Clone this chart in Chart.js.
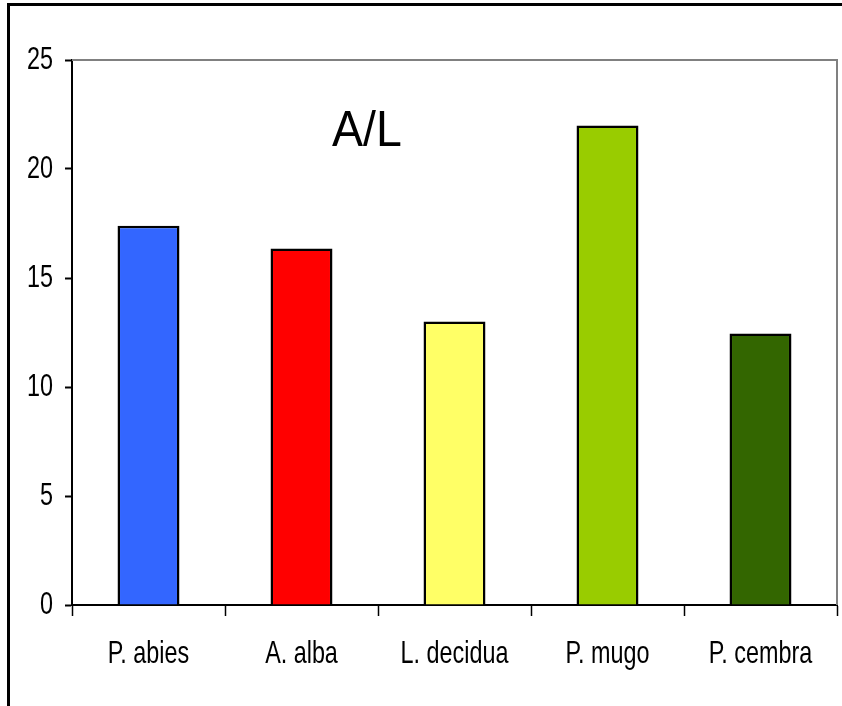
<!DOCTYPE html>
<html>
<head>
<meta charset="utf-8">
<script src="https://cdn.jsdelivr.net/npm/chart.js@4/dist/chart.umd.min.js"></script>
<style>
  html, body { margin: 0; padding: 0; background: #fff; }
  #wrap { width: 842px; height: 706px; position: relative; }
</style>
</head>
<body>
<div id="wrap"><canvas id="c" width="842" height="706"></canvas></div>
<script>
// Species and their A/L ratio
const species = ['P. abies', 'A. alba', 'L. decidua', 'P. mugo', 'P. cembra'];
const ratioAL = [17.4, 16.35, 13.0, 22.0, 12.45];
const barColors = ['#3366FF', '#FF0000', '#FFFF66', '#99CC00', '#336600'];
const yTicks = [0, 5, 10, 15, 20, 25];
const panelTitle = 'A/L';

const tickFamily = "'Liberation Sans', Arial, sans-serif";
const tickSize = 32;
const narrowFactor = 0.73;   // horizontal squeeze for a narrow-face look on axis labels

// Axis labels are drawn in a condensed style: squeeze text horizontally
// around its anchor point so alignment is kept.
function makeNarrowText(ctx) {
  const base = ctx.fillText.bind(ctx);
  ctx.fillText = function (text, x, y, maxWidth) {
    if (this.__narrow && this.font.indexOf(tickSize + 'px') !== -1) {
      this.save();
      this.translate(x, y);
      this.scale(narrowFactor, 1);
      base(text, 0, 0);
      this.restore();
    } else if (maxWidth !== undefined) {
      base(text, x, y, maxWidth);
    } else {
      base(text, x, y);
    }
  };
}

// Frame lines, plot border and in-plot title
const decorations = {
  id: 'decorations',
  beforeInit(chart) { makeNarrowText(chart.ctx); },
  beforeDraw(chart) {
    const ctx = chart.ctx;
    ctx.save();
    ctx.fillStyle = '#fff';
    ctx.fillRect(0, 0, chart.width, chart.height);
    ctx.strokeStyle = '#000';
    ctx.lineWidth = 3;
    ctx.beginPath();
    ctx.moveTo(8.5, chart.height + 2);
    ctx.lineTo(8.5, 4.5);
    ctx.lineTo(chart.width + 4, 4.5);
    ctx.stroke();
    ctx.restore();
    ctx.__narrow = true;
  },
  beforeDatasetsDraw(chart) { chart.ctx.__narrow = false; },
  afterDatasetsDraw(chart) {
    const { ctx, chartArea: a } = chart;
    ctx.save();
    ctx.strokeStyle = '#808080';
    ctx.lineWidth = 2;
    ctx.beginPath();
    ctx.moveTo(a.left, a.top);
    ctx.lineTo(a.right, a.top);
    ctx.lineTo(a.right, a.bottom);
    ctx.stroke();
    ctx.fillStyle = '#000';
    ctx.font = "50px 'Liberation Sans', Arial, sans-serif";
    ctx.textAlign = 'center';
    ctx.textBaseline = 'alphabetic';
    const x = a.left + (367 - 72) / 765 * (a.right - a.left);
    const y = a.top + (146 - 60) / 545 * (a.bottom - a.top);
    ctx.translate(x, y);
    ctx.scale(0.93, 1);
    ctx.fillText(panelTitle, 0, 0);
    ctx.restore();
  }
};

new Chart(document.getElementById('c'), {
  type: 'bar',
  data: {
    labels: species,
    datasets: [{
      data: ratioAL,
      backgroundColor: barColors,
      borderColor: '#000',
      borderWidth: 2.5,
      borderSkipped: 'bottom',
      barPercentage: 0.405,
      categoryPercentage: 1.0
    }]
  },
  options: {
    responsive: false,
    animation: false,
    devicePixelRatio: 1,
    layout: { padding: { left: 0, top: 60, right: 5, bottom: 0 } },
    plugins: { legend: { display: false }, tooltip: { enabled: false }, title: { display: false } },
    scales: {
      x: {
        grid: {
          display: true,
          drawOnChartArea: false,
          drawTicks: true,
          tickLength: 11,
          tickColor: '#000',
          tickWidth: 1.5,
          offset: true
        },
        border: { display: true, color: '#000', width: 2 },
        ticks: {
          color: '#000',
          font: { family: tickFamily, size: tickSize },
          padding: 19,
          maxRotation: 0,
          autoSkip: false
        },
        afterFit(s) {
          s.height = 101;
          s.paddingLeft = 0;
          s.paddingRight = 0;
        }
      },
      y: {
        min: 0,
        max: 25,
        afterBuildTicks(s) { s.ticks = yTicks.map(v => ({ value: v })); },
        grid: {
          display: true,
          drawOnChartArea: false,
          drawTicks: true,
          tickLength: 7,
          tickColor: '#000',
          tickWidth: 2
        },
        border: { display: true, color: '#000', width: 2 },
        ticks: {
          color: '#000',
          font: { family: tickFamily, size: tickSize },
          padding: 12
        },
        afterFit(s) {
          s.width = 72;
          s.paddingTop = 0;
          s.paddingBottom = 0;
        }
      }
    }
  },
  plugins: [decorations]
});
</script>
</body>
</html>
